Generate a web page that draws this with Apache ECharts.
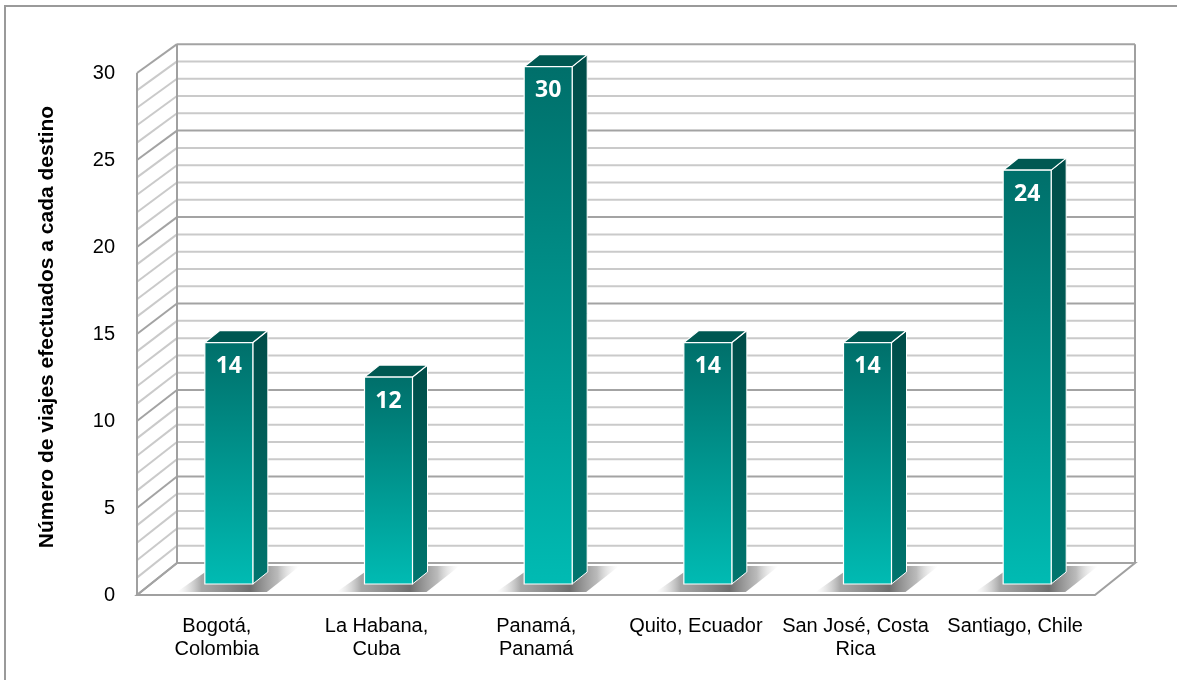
<!DOCTYPE html>
<html>
<head>
<meta charset="utf-8">
<script src="https://cdn.jsdelivr.net/npm/echarts@6/dist/echarts.min.js"></script>
<style>
  html, body { margin: 0; padding: 0; background: #fff; }
  #main { width: 1177px; height: 680px; }
</style>
</head>
<body>
<div id="main"></div>
<script>
// datos
var destinos = ['Bogotá, Colombia', 'La Habana, Cuba', 'Panamá, Panamá', 'Quito, Ecuador', 'San José, Costa Rica', 'Santiago, Chile'];
var etiquetasX = ['Bogotá,\nColombia', 'La Habana,\nCuba', 'Panamá,\nPanamá', 'Quito, Ecuador', 'San José, Costa\nRica', 'Santiago, Chile'];
var viajes = [14, 12, 30, 14, 14, 24];
var ticksY = [0, 5, 10, 15, 20, 25, 30];

var myChart = echarts.init(document.getElementById('main'));

// profundidad de la caja 3D
var DX = 40, DY = 32;
var fuente = "'Liberation Sans', Arial, sans-serif";

// paredes, suelo y rejilla
function renderCaja(params, api) {
  var cs = params.coordSys;
  var xL = cs.x, xR = cs.x + cs.width;
  var y0 = api.coord([0, 0])[1];
  var children = [];
  function yBack(v) {
    return y0 - DY + (api.coord([0, v])[1] - y0) * 0.994;
  }
  var maxV = ticksY[ticksY.length - 1];
  // suelo
  children.push({
    type: 'polygon',
    shape: { points: [[xL, y0], [xR, y0], [xR + DX, yBack(0)], [xL + DX, yBack(0)]] },
    style: { fill: '#fff', stroke: '#a0a0a0', lineWidth: 2 }
  });
  for (var v = 0; v <= maxV; v++) {
    var major = v % 5 === 0;
    var col = major ? '#a3a3a3' : '#cacaca';
    var yf = api.coord([0, v])[1], yb = yBack(v);
    children.push({
      type: 'line',
      shape: { x1: xL + DX, y1: yb, x2: xR + DX, y2: yb },
      style: { stroke: col, lineWidth: 2 }
    });
    children.push({
      type: 'line',
      shape: { x1: xL, y1: yf, x2: xL + DX, y2: yb },
      style: { stroke: col, lineWidth: 2 }
    });
  }
  // bordes verticales
  children.push({ type: 'line', shape: { x1: xL, y1: api.coord([0, maxV])[1], x2: xL, y2: y0 }, style: { stroke: '#a0a0a0', lineWidth: 2 } });
  children.push({ type: 'line', shape: { x1: xL + DX, y1: yBack(maxV), x2: xL + DX, y2: yBack(0) }, style: { stroke: '#a0a0a0', lineWidth: 2 } });
  children.push({ type: 'line', shape: { x1: xR + DX, y1: yBack(maxV), x2: xR + DX, y2: yBack(0) }, style: { stroke: '#a0a0a0', lineWidth: 2 } });
  return { type: 'group', children: children };
}

// barras 3D
function renderBarra(params, api) {
  var i = api.value(0), v = api.value(1);
  var p0 = api.coord([i, 0]), p1 = api.coord([i, v]);
  var cx = p0[0] + 12, yb = p0[1] - 11;
  var yt = yb - (p0[1] - p1[1]) * 0.991;
  var hw = 24, dx = 15, dy = 12;
  var xl = cx - hw, xr = cx + hw;
  return {
    type: 'group',
    children: [
      // sombra en el suelo
      {
        type: 'polygon',
        shape: { points: [[xl - 28, yb + 8], [xr + 14, yb + 8], [xr + dx + 32, yb - dy - 6], [xl + dx - 6, yb - dy - 6]] },
        style: {
          fill: new echarts.graphic.LinearGradient(0, 0, 1, 0, [
            { offset: 0, color: 'rgba(200,200,200,0)' },
            { offset: 0.2, color: 'rgba(130,130,130,0.7)' },
            { offset: 0.6, color: 'rgba(95,95,95,0.9)' },
            { offset: 0.82, color: 'rgba(140,140,140,0.6)' },
            { offset: 1, color: 'rgba(220,220,220,0)' }
          ])
        }
      },
      {
        type: 'polygon',
        shape: { points: [[xr, yt], [xr + dx, yt - dy], [xr + dx, yb - dy], [xr, yb]] },
        style: {
          fill: new echarts.graphic.LinearGradient(0, 0, 0, 1, [
            { offset: 0, color: '#004c48' },
            { offset: 1, color: '#00766f' }
          ]),
          stroke: '#ffffff', lineWidth: 1
        }
      },
      {
        type: 'polygon',
        shape: { points: [[xl, yt], [xr, yt], [xr + dx, yt - dy], [xl + dx, yt - dy]] },
        style: { fill: '#005852', stroke: '#ffffff', lineWidth: 1.2 }
      },
      {
        type: 'rect',
        shape: { x: xl, y: yt, width: hw * 2, height: yb - yt },
        style: {
          fill: new echarts.graphic.LinearGradient(0, 0, 0, 1, [
            { offset: 0, color: '#006f6a' },
            { offset: 1, color: '#00bbb3' }
          ]),
          stroke: '#ffffff', lineWidth: 1.2
        }
      },
      {
        type: 'text',
        style: {
          x: cx, y: yt + 24, text: String(v),
          fill: '#fff', fontSize: 23, fontWeight: 'bold', fontFamily: "'Open Sans', sans-serif",
          align: 'center', verticalAlign: 'middle'
        }
      }
    ]
  };
}

var option = {
  backgroundColor: '#fff',
  animation: false,
  graphic: [{
    type: 'rect',
    shape: { x: 5, y: 6, width: 1300, height: 800 },
    style: { fill: 'none', stroke: '#9a9a9a', lineWidth: 2 },
    z: -10
  }],
  grid: { left: 137, right: 82, top: 73, bottom: 85 },
  xAxis: {
    type: 'category',
    data: destinos,
    axisLine: { show: false },
    axisTick: { show: false },
    splitLine: { show: false },
    axisLabel: {
      color: '#000', fontSize: 20, fontFamily: fuente,
      lineHeight: 23, margin: 20, interval: 0,
      formatter: function (val, idx) { return etiquetasX[idx]; }
    }
  },
  yAxis: {
    type: 'value',
    min: 0, max: 30, interval: 5,
    name: 'Número de viajes efectuados a cada destino',
    nameLocation: 'middle',
    nameGap: 79,
    nameTextStyle: { color: '#000', fontWeight: 'bold', fontSize: 21, fontFamily: fuente, padding: [0, 0, 0, 14] },
    axisLine: { show: false },
    axisTick: { show: false },
    splitLine: { show: false },
    axisLabel: { color: '#000', fontSize: 20, fontFamily: fuente, margin: 22 }
  },
  series: [
    {
      type: 'custom',
      renderItem: renderCaja,
      data: [[0, 0]],
      silent: true,
      z: 1
    },
    {
      type: 'custom',
      renderItem: renderBarra,
      data: viajes.map(function (v, i) { return [i, v]; }),
      z: 2
    }
  ]
};

myChart.setOption(option);
</script>
</body>
</html>
